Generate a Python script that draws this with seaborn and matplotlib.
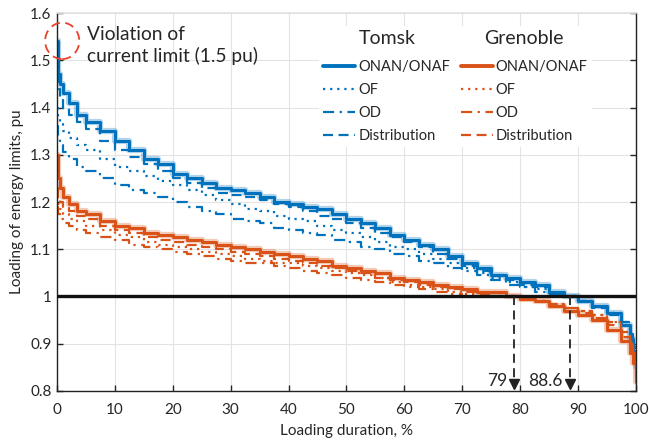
import matplotlib
matplotlib.use('Agg')
import pandas as pd
import matplotlib.pyplot as plt
import seaborn as sns
from matplotlib.patches import Ellipse
from matplotlib.lines import Line2D
from matplotlib.ticker import FuncFormatter

# loading duration, %
duration = [0, 0.2, 0.5, 1, 2, 3.5, 5, 7.5, 10, 12.5, 15, 17.5, 20, 22.5, 25, 27.5,
            30, 32.5, 35, 37.5, 40, 42.5, 45, 47.5, 50, 52.5, 55, 57.5, 60, 62.5,
            65, 67.5, 70, 72.5, 75, 77.5, 80, 82.5, 85, 87.5, 90, 92.5, 95, 97.5,
            99, 99.5, 100]

# Tomsk
tomsk_onan = [1.54, 1.47, 1.45, 1.43, 1.41, 1.385, 1.37, 1.35, 1.33, 1.31, 1.29, 1.28,
              1.26, 1.25, 1.24, 1.23, 1.225, 1.22, 1.21, 1.20, 1.195, 1.19, 1.185,
              1.175, 1.165, 1.155, 1.145, 1.13, 1.12, 1.11, 1.10, 1.085, 1.07, 1.06,
              1.045, 1.04, 1.03, 1.025, 1.01, 1.0, 0.99, 0.98, 0.965, 0.94, 0.91,
              0.885, 0.85]
tomsk_of = [1.40, 1.38, 1.365, 1.35, 1.335, 1.32, 1.31, 1.29, 1.275, 1.265, 1.255,
            1.245, 1.235, 1.225, 1.215, 1.205, 1.195, 1.185, 1.18, 1.17, 1.165, 1.16,
            1.15, 1.14, 1.135, 1.125, 1.115, 1.105, 1.10, 1.09, 1.08, 1.07, 1.06,
            1.05, 1.04, 1.03, 1.02, 1.015, 1.005, 1.0, 0.99, 0.98, 0.965, 0.945,
            0.92, 0.90, 0.87]
tomsk_od = [1.36, 1.34, 1.32, 1.305, 1.29, 1.275, 1.265, 1.25, 1.235, 1.225, 1.22,
            1.21, 1.20, 1.19, 1.18, 1.175, 1.165, 1.16, 1.155, 1.145, 1.14, 1.135,
            1.13, 1.12, 1.115, 1.105, 1.10, 1.09, 1.085, 1.075, 1.07, 1.06, 1.055,
            1.045, 1.035, 1.025, 1.02, 1.01, 1.005, 1.0, 0.99, 0.98, 0.965, 0.945,
            0.92, 0.90, 0.87]
tomsk_dist = [1.47, 1.44, 1.42, 1.40, 1.385, 1.37, 1.355, 1.33, 1.31, 1.295, 1.28,
              1.265, 1.25, 1.24, 1.23, 1.22, 1.215, 1.21, 1.205, 1.195, 1.19, 1.18,
              1.17, 1.165, 1.155, 1.145, 1.135, 1.125, 1.115, 1.105, 1.09, 1.08,
              1.065, 1.055, 1.045, 1.035, 1.025, 1.02, 1.005, 1.0, 0.99, 0.975, 0.96,
              0.94, 0.91, 0.89, 0.86]

# Grenoble
gren_onan = [1.30, 1.25, 1.23, 1.21, 1.195, 1.18, 1.175, 1.16, 1.15, 1.145, 1.135,
             1.13, 1.125, 1.12, 1.115, 1.11, 1.105, 1.10, 1.095, 1.09, 1.085, 1.08,
             1.075, 1.065, 1.06, 1.055, 1.05, 1.04, 1.035, 1.03, 1.025, 1.02, 1.015,
             1.01, 1.01, 1.0, 0.995, 0.99, 0.98, 0.97, 0.96, 0.95, 0.93, 0.905, 0.88,
             0.86, 0.82]
gren_of = [1.21, 1.195, 1.185, 1.175, 1.165, 1.16, 1.15, 1.14, 1.13, 1.125, 1.115,
           1.11, 1.105, 1.10, 1.095, 1.09, 1.085, 1.08, 1.075, 1.07, 1.07, 1.065,
           1.06, 1.055, 1.05, 1.045, 1.04, 1.03, 1.025, 1.02, 1.015, 1.01, 1.005,
           1.0, 1.0, 1.0, 0.995, 0.99, 0.985, 0.975, 0.97, 0.96, 0.945, 0.925, 0.90,
           0.88, 0.84]
gren_od = [1.19, 1.175, 1.165, 1.155, 1.15, 1.14, 1.135, 1.125, 1.12, 1.11, 1.105,
           1.10, 1.095, 1.09, 1.085, 1.08, 1.075, 1.07, 1.07, 1.065, 1.06, 1.055,
           1.05, 1.045, 1.04, 1.035, 1.03, 1.025, 1.02, 1.015, 1.01, 1.005, 1.0, 1.0,
           1.0, 1.0, 0.995, 0.99, 0.985, 0.975, 0.97, 0.96, 0.945, 0.925, 0.90, 0.88,
           0.84]
gren_dist = [1.23, 1.21, 1.20, 1.19, 1.18, 1.17, 1.165, 1.15, 1.14, 1.135, 1.125,
             1.12, 1.115, 1.11, 1.105, 1.10, 1.095, 1.09, 1.085, 1.08, 1.075, 1.07,
             1.065, 1.06, 1.055, 1.05, 1.04, 1.035, 1.03, 1.025, 1.02, 1.015, 1.01,
             1.005, 1.0, 1.0, 0.995, 0.99, 0.98, 0.975, 0.965, 0.955, 0.94, 0.915,
             0.89, 0.87, 0.83]

limit_crossings = [79, 88.6]
crossing_labels = ['79', '88.6']
cooling_types = ['ONAN/ONAF', 'OF', 'OD', 'Distribution']

blue = '#0072BD'
orange = '#D95319'
styles = {'ONAN/ONAF': ('-', 2.2), 'OF': ((0, (1, 2.2)), 1.6),
          'OD': ((0, (5, 2.5, 1, 2.5)), 1.6), 'Distribution': ((0, (4.5, 2.5)), 1.6)}

sns.set_theme(style='whitegrid')
plt.rcParams['font.family'] = ['Lato', 'DejaVu Sans']

fig = plt.figure(figsize=(6.49, 4.41), dpi=100)
ax = fig.add_axes([0.0878, 0.1134, 0.8920, 0.8571])

series = {('Tomsk', 'ONAN/ONAF'): tomsk_onan, ('Tomsk', 'OF'): tomsk_of,
          ('Tomsk', 'OD'): tomsk_od, ('Tomsk', 'Distribution'): tomsk_dist,
          ('Grenoble', 'ONAN/ONAF'): gren_onan, ('Grenoble', 'OF'): gren_of,
          ('Grenoble', 'OD'): gren_od, ('Grenoble', 'Distribution'): gren_dist}

for (city, kind), vals in series.items():
    col = blue if city == 'Tomsk' else orange
    ls, lw = styles[kind]
    df = pd.DataFrame({'x': duration, 'y': vals})
    if kind == 'ONAN/ONAF':
        # pale halo behind the main curve
        sns.lineplot(data=df, x='x', y='y', ax=ax, color=col, lw=4.5, alpha=0.3,
                     drawstyle='steps-post', estimator=None, sort=False)
    sns.lineplot(data=df, x='x', y='y', ax=ax, color=col, lw=lw, linestyle=ls,
                 drawstyle='steps-post', estimator=None, sort=False)

# 1 pu energy limit
ax.axhline(1.0, color='#111111', lw=2.4, zorder=5)

for xc, lab in zip(limit_crossings, crossing_labels):
    ax.plot([xc, xc], [1.0, 0.818], color='#222222', lw=1.3, ls=(0, (5, 3)), zorder=6)
    ax.plot([xc], [0.815], marker='v', color='#222222', ms=7, zorder=6)
    ax.text(xc - 1.2, 0.822, lab, ha='right', va='center', fontsize=12.5, color='#262626')

# violation circle + note
ax.add_patch(Ellipse((0.9, 1.541), 5.9, 0.077, fill=False, ec='#E8412B', lw=1.3,
                     ls=(0, (5, 3)), clip_on=False, zorder=7))
ax.text(5.2, 1.531, 'Violation of\ncurrent limit (1.5 pu)', ha='left', va='center',
        fontsize=13.8, color='#262626', linespacing=1.3)

ax.set_xlim(0, 100)
ax.set_ylim(0.8, 1.6)
ax.set_xticks(range(0, 101, 10))
ax.set_yticks([0.8, 0.9, 1.0, 1.1, 1.2, 1.3, 1.4, 1.5, 1.6])
ax.yaxis.set_major_formatter(FuncFormatter(lambda v, p: '%g' % round(v, 1)))
ax.set_xlabel('Loading duration, %', fontsize=11, color='#262626', labelpad=5)
ax.set_ylabel('Loading of energy limits, pu', fontsize=11, color='#262626', labelpad=4)
ax.tick_params(direction='in', length=4, width=1, labelsize=11, colors='#262626',
               right=True, left=True, bottom=True, top=False, pad=4)
ax.tick_params(axis='x', pad=9)
ax.tick_params(axis='y', labelright=False)
ax.grid(True, color='#e3e3e3', lw=0.8)
for s in ['left', 'right', 'bottom']:
    ax.spines[s].set_color('#222222')
    ax.spines[s].set_linewidth(1.0)
ax.spines['top'].set_color('#e3e3e3')

for i, (city, col) in enumerate([('Tomsk', blue), ('Grenoble', orange)]):
    handles = [Line2D([], [], color=col, lw=styles[k][1] + (0.6 if k == 'ONAN/ONAF' else 0),
                      linestyle=styles[k][0]) for k in cooling_types]
    leg = ax.legend(handles, cooling_types, title=city, loc='upper left',
                    bbox_to_anchor=(0.44 + 0.237 * i, 0.985), fontsize=10.5,
                    title_fontsize=14, handlelength=2.2, handletextpad=0.2,
                    labelspacing=0.62, borderpad=0.3, frameon=True,
                    facecolor='white', edgecolor='none', framealpha=1)
    leg._legend_box.sep = 9  # more room under the city name
    leg.set_zorder(8)
    ax.add_artist(leg)

fig.savefig('out.png', dpi=100)
